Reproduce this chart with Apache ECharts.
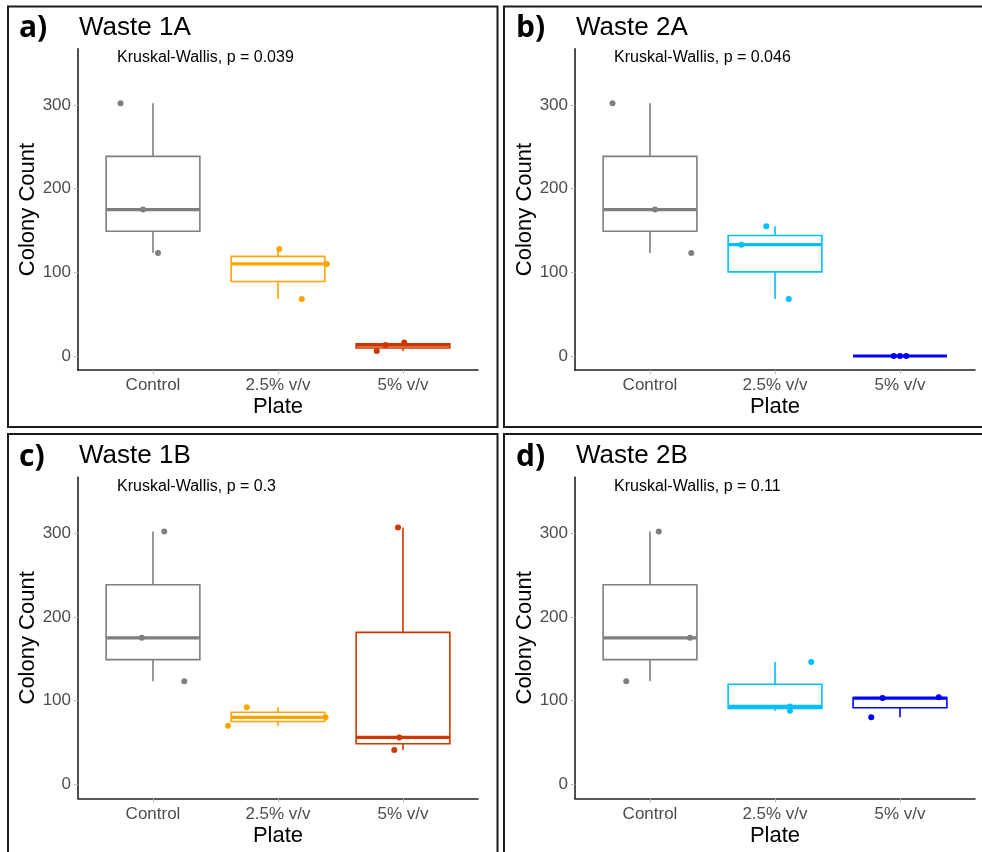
<!DOCTYPE html>
<html>
<head>
<meta charset="utf-8">
<title>Colony counts</title>
<script src="https://cdn.jsdelivr.net/npm/echarts@6/dist/echarts.min.js"></script>
<style>
  html, body { margin: 0; padding: 0; background: #fff; }
  #chart { width: 982px; height: 852px; }
</style>
</head>
<body>
<div id="chart"></div>
<script>
const categories = ['Control', '2.5% v/v', '5% v/v'];
const yTicks = [0, 100, 200, 300];
const panelLetters = ['a)', 'b)', 'c)', 'd)'];
const panelTitles = ['Waste 1A', 'Waste 2A', 'Waste 1B', 'Waste 2B'];
const pValues = ['0.039', '0.046', '0.3', '0.11'];

// box stats per plate: [min, q1, median, q3, max]
const boxW1A = [[123, 149, 175, 238.5, 302], [68, 89, 110, 119, 128], [6, 9.5, 13, 14.5, 16]];
const boxW2A = [[123, 149, 175, 238.5, 302], [68, 100.5, 133, 144, 155], [0, 0, 0, 0, 0]];
const boxW1B = [[123, 149, 175, 238.5, 302], [70, 75, 80, 86, 92], [41, 48.5, 56, 181.5, 307]];
const boxW2B = [[123, 149, 175, 238.5, 302], [88, 90.5, 93, 119.5, 146], [80, 91.5, 103, 103.5, 104]];

// jittered points per plate: [x position in plate units, colony count]
const ptsW1A = [
  [[0.74, 302], [0.92, 175], [1.04, 123]],
  [[2.01, 128], [2.39, 110], [2.19, 68]],
  [[2.79, 6], [2.86, 13], [3.01, 16]]
];
const ptsW2A = [
  [[0.70, 302], [1.04, 175], [1.33, 123]],
  [[1.93, 155], [1.73, 133], [2.11, 68]],
  [[2.95, 0], [3.00, 0], [3.05, 0]]
];
const ptsW1B = [
  [[1.09, 302], [0.91, 175], [1.25, 123]],
  [[1.75, 92], [2.38, 80], [1.60, 70]],
  [[2.96, 307], [2.97, 56], [2.93, 41]]
];
const ptsW2B = [
  [[1.07, 302], [1.32, 175], [0.81, 123]],
  [[2.29, 146], [2.12, 93], [2.12, 88]],
  [[2.86, 103], [3.31, 104], [2.77, 80]]
];

const coloursA = ['#7f7f7f', '#ffa500', '#cd3700'];
const coloursB = ['#7f7f7f', '#00bfff', '#0000ff'];

const panels = [
  { box: boxW1A, pts: ptsW1A, colours: coloursA },
  { box: boxW2A, pts: ptsW2A, colours: coloursB },
  { box: boxW1B, pts: ptsW1B, colours: coloursA },
  { box: boxW2B, pts: ptsW2B, colours: coloursB }
];

// layout
const gridLeft = [78, 575, 78, 575];
const gridTop = [48.9, 48.9, 477.2, 477.2];
const frames = [[8, 6.5, 489.5, 420.5], [504, 6.5, 490, 420.5], [8, 434, 489.5, 430], [504, 434, 490, 430]];
const font = 'Liberation Sans, Arial, sans-serif';

function renderBox(params, api) {
  const x = api.value(0);
  const lo = api.coord([x, api.value(1)]);
  const q1 = api.coord([x, api.value(2)]);
  const med = api.coord([x, api.value(3)]);
  const q3 = api.coord([x, api.value(4)]);
  const hi = api.coord([x, api.value(5)]);
  const half = api.size([0.75, 0])[0] / 2;
  const col = api.visual('color');
  return {
    type: 'group',
    children: [
      { type: 'line', shape: { x1: lo[0], y1: lo[1], x2: q1[0], y2: q1[1] }, style: { stroke: col, lineWidth: 1.6 } },
      { type: 'line', shape: { x1: q3[0], y1: q3[1], x2: hi[0], y2: hi[1] }, style: { stroke: col, lineWidth: 1.6 } },
      { type: 'rect', shape: { x: q3[0] - half, y: q3[1], width: half * 2, height: q1[1] - q3[1] },
        style: { fill: '#fff', stroke: col, lineWidth: 1.6 } },
      { type: 'line', shape: { x1: med[0] - half, y1: med[1], x2: med[0] + half, y2: med[1] },
        style: { stroke: col, lineWidth: 3.2 } }
    ]
  };
}

const grids = [], xAxes = [], yAxes = [], series = [], graphics = [];

panels.forEach((p, i) => {
  grids.push({ left: gridLeft[i], top: gridTop[i], width: 400, height: 321.3 });
  xAxes.push({
    type: 'value', gridIndex: i, min: 0.4, max: 3.6,
    axisLine: { show: true, onZero: false, lineStyle: { color: '#222', width: 1.6 } },
    axisTick: { show: true, customValues: [1, 2, 3], length: 4, lineStyle: { color: '#bbb' } },
    axisLabel: { customValues: [1, 2, 3], formatter: v => categories[Math.round(v) - 1],
      color: '#4d4d4d', fontSize: 17, fontFamily: font, margin: 7 },
    splitLine: { show: false },
    name: 'Plate', nameLocation: 'middle', nameGap: 26,
    nameTextStyle: { color: '#000', fontSize: 22, fontFamily: font }
  });
  yAxes.push({
    type: 'value', gridIndex: i, min: -17, max: 367,
    axisLine: { show: true, onZero: false, lineStyle: { color: '#222', width: 1.6 } },
    axisTick: { show: true, customValues: yTicks, length: 4, lineStyle: { color: '#bbb' } },
    axisLabel: { customValues: yTicks, color: '#4d4d4d', fontSize: 17, fontFamily: font, margin: 7 },
    splitLine: { show: false },
    name: 'Colony Count', nameLocation: 'middle', nameGap: 39,
    nameTextStyle: { color: '#000', fontSize: 22, fontFamily: font }
  });

  series.push({
    type: 'custom', xAxisIndex: i, yAxisIndex: i, renderItem: renderBox,
    encode: { x: 0, y: [1, 2, 3, 4, 5] }, z: 2, silent: true,
    data: p.box.map((b, g) => ({ value: [g + 1].concat(b), itemStyle: { color: p.colours[g] } }))
  });
  p.pts.forEach((pts, g) => {
    series.push({
      type: 'scatter', xAxisIndex: i, yAxisIndex: i, data: pts,
      symbolSize: 6, itemStyle: { color: p.colours[g], opacity: 1 }, z: 3, silent: true
    });
  });

  const f = frames[i];
  graphics.push({ type: 'rect', shape: { x: f[0], y: f[1], width: f[2], height: f[3] },
    style: { fill: 'none', stroke: '#1a1a1a', lineWidth: 2 } });
  graphics.push({ type: 'text', x: gridLeft[i] - 59, y: gridTop[i] - 20,
    style: { text: panelLetters[i], font: 'bold 30px "Open Sans", sans-serif', fill: '#000',
      textAlign: 'left', textVerticalAlign: 'middle' } });
  graphics.push({ type: 'text', x: gridLeft[i] + 1, y: gridTop[i] - 21,
    style: { text: panelTitles[i], font: '26px ' + font, fill: '#000',
      textAlign: 'left', textVerticalAlign: 'middle' } });
  graphics.push({ type: 'text', x: gridLeft[i] + 39, y: gridTop[i] + 9,
    style: { text: 'Kruskal-Wallis, p = ' + pValues[i], font: '16px ' + font, fill: '#000',
      textAlign: 'left', textVerticalAlign: 'middle' } });
});

const chart = echarts.init(document.getElementById('chart'));
chart.setOption({
  backgroundColor: '#fff',
  animation: false,
  grid: grids,
  xAxis: xAxes,
  yAxis: yAxes,
  series: series,
  graphic: graphics
});
</script>
</body>
</html>
